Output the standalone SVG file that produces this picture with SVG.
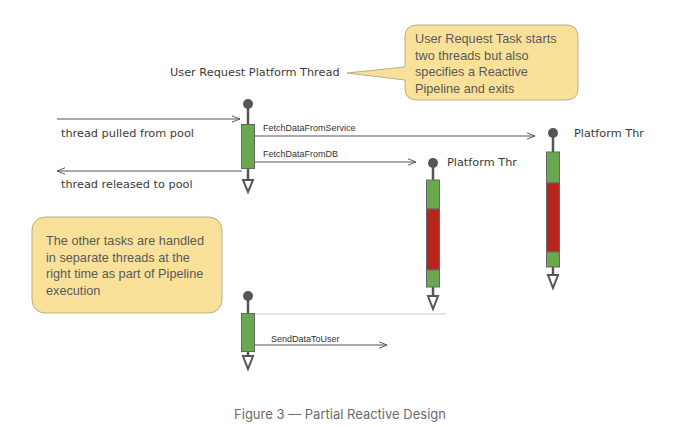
<svg xmlns="http://www.w3.org/2000/svg" width="680" height="427" viewBox="0 0 680 427">
<defs>
<style>
.hand{font-family:"DejaVu Sans","Liberation Sans",sans-serif;font-size:11.3px;fill:#3a3a3a}
.lbl{font-family:"Liberation Sans",Arial,sans-serif;font-size:9px;fill:#333}
.note{font-family:"Liberation Sans",Arial,sans-serif;font-size:12.7px;fill:#5a5a5a}
.cap{font-family:"Inter","Liberation Sans",sans-serif;font-size:13px;fill:#6b6b6b}
.ln{stroke:#555;stroke-width:1;fill:none}
.stem{stroke:#555;stroke-width:2.5;fill:none}
.dot{fill:#555}
.g{fill:#6aa84f;stroke:#666;stroke-width:1}
.r{fill:#b7261d;stroke:#666;stroke-width:1}
.tri{fill:#fff;stroke:#555;stroke-width:2}
.callout{fill:#f9e19a;stroke:#b9ad8a;stroke-width:1}
</style>
<marker id="arr" viewBox="0 0 10 10" refX="10" refY="5" markerWidth="8" markerHeight="8" orient="auto" markerUnits="userSpaceOnUse">
<path d="M0,1 L10,5 L0,9" fill="none" stroke="#555" stroke-width="1.2"/>
</marker>
</defs>
<rect width="680" height="427" fill="#fff"/>

<g id="callout-top">
<path class="callout" d="M417,25 H566 Q578,25 578,37 V88 Q578,100 566,100 H417 Q405,100 405,88 V80 L347,73 L405,67 V37 Q405,25 417,25 Z"/>
<text class="note" x="415" y="43">User Request Task starts</text>
<text class="note" x="415" y="59.5">two threads but also</text>
<text class="note" x="415" y="76">specifies a Reactive</text>
<text class="note" x="415" y="92.5">Pipeline and exits</text>
</g>

<g id="title-label">
<text class="hand" x="170" y="76">User Request Platform Thread</text>
</g>

<g id="thread-main">
<line class="stem" x1="248" y1="104" x2="248" y2="180"/>
<circle class="dot" cx="248" cy="104" r="5"/>
<rect class="g" x="241.5" y="124.5" width="13" height="44"/>
<polygon class="tri" points="243,180 253,180 248,192"/>
</g>

<g id="thread-db">
<line class="stem" x1="433" y1="163" x2="433" y2="296"/>
<circle class="dot" cx="433" cy="163" r="5"/>
<rect class="g" x="426.5" y="180" width="13" height="29"/>
<rect class="r" x="426.5" y="209" width="13" height="61"/>
<rect class="g" x="426.5" y="270" width="13" height="17"/>
<polygon class="tri" points="428,296 438,296 433,309"/>
<text class="hand" x="447" y="166">Platform Thr</text>
</g>

<g id="thread-service">
<line class="stem" x1="553" y1="133" x2="553" y2="275"/>
<circle class="dot" cx="553" cy="133" r="5"/>
<rect class="g" x="546.5" y="152" width="13" height="31"/>
<rect class="r" x="546.5" y="183" width="13" height="69"/>
<rect class="g" x="546.5" y="252" width="13" height="15"/>
<polygon class="tri" points="548,275 558,275 553,288"/>
<text class="hand" x="574" y="137">Platform Thr</text>
</g>

<g id="thread-send">
<line class="stem" x1="248" y1="296" x2="248" y2="356"/>
<circle class="dot" cx="248" cy="296" r="5"/>
<rect class="g" x="241.5" y="313.5" width="13" height="38"/>
<polygon class="tri" points="243,356 253,356 248,369"/>
</g>

<g id="callout-bottom">
<rect class="callout" x="32" y="217" width="190" height="96" rx="13"/>
<text class="note" x="46" y="245">The other tasks are handled</text>
<text class="note" x="46" y="261.5">in separate threads at the</text>
<text class="note" x="46" y="278">right time as part of Pipeline</text>
<text class="note" x="46" y="294.5">execution</text>
</g>

<g id="connectors">
<line class="ln" x1="57" y1="119" x2="240" y2="119" marker-end="url(#arr)"/>
<text class="hand" x="61" y="137">thread pulled from pool</text>
<line class="ln" x1="242" y1="171" x2="57" y2="171" marker-end="url(#arr)"/>
<text class="hand" x="61" y="188">thread released to pool</text>
<line class="ln" x1="255" y1="136" x2="535" y2="136" marker-end="url(#arr)"/>
<text class="lbl" x="263" y="131">FetchDataFromService</text>
<line class="ln" x1="255" y1="162" x2="416" y2="162" marker-end="url(#arr)"/>
<text class="lbl" x="263" y="157">FetchDataFromDB</text>
<line x1="255" y1="314" x2="446" y2="314" stroke="#ccc" stroke-width="1"/>
<line class="ln" x1="255" y1="345" x2="387" y2="345" marker-end="url(#arr)"/>
<text class="lbl" x="271" y="342">SendDataToUser</text>
</g>

<text class="cap" x="340" y="419" text-anchor="middle">Figure 3 — Partial Reactive Design</text>
</svg>
